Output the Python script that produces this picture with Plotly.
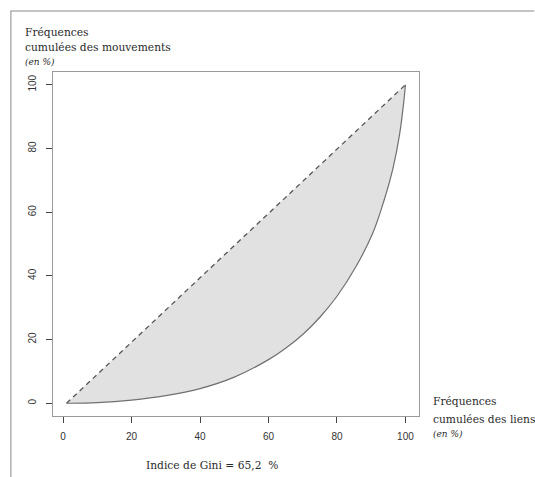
import plotly.graph_objects as go

# Lorenz curve (cumulative % of links vs cumulative % of movements)
links_cum = [1, 10, 20, 30, 40, 50, 60, 65, 70, 75, 80, 85.6, 90.5, 93.7, 96.4, 98.3, 99.5, 100]
moves_cum = [0, 0.2, 1.0, 2.4, 4.6, 8.2, 13.7, 17.3, 21.6, 27, 33.6, 43, 53.5, 63.5, 74, 84.5, 94.5, 100]
equality_x = [1, 100]
equality_y = [0, 100]
x_ticks = [0, 20, 40, 60, 80, 100]
y_ticks = [0, 20, 40, 60, 80, 100]
gini_text = "Indice de Gini = 65,2\u00a0 %"

W, H = 535, 477
L, R, T, B = 52.7, 419.5, 72.0, 416.0

def px(x):
    return (x - L) / (R - L)

def py(y):
    return (B - y) / (B - T)

fig = go.Figure()

# equality line (upper bound of the shaded area)
fig.add_trace(go.Scatter(
    x=equality_x, y=equality_y, mode="lines",
    line=dict(color="rgba(0,0,0,0)", width=0),
    hoverinfo="skip", showlegend=False))

# Lorenz curve, shaded up to the equality line
fig.add_trace(go.Scatter(
    x=links_cum, y=moves_cum, mode="lines",
    line=dict(color="#707070", width=1.2, shape="spline", smoothing=1.0),
    fill="tonexty", fillcolor="#e1e1e1", showlegend=False))

# dashed equality line on top
fig.add_trace(go.Scatter(
    x=equality_x, y=equality_y, mode="lines",
    line=dict(color="#555555", width=1.3, dash="5px,4px"),
    showlegend=False))

axis_common = dict(showgrid=False, zeroline=False, showline=True, mirror=True,
                   linecolor="#9a9a9a", linewidth=1, ticks="outside", ticklen=6,
                   tickcolor="#444444", tickwidth=1,
                   tickfont=dict(family="Liberation Sans, Arial", size=10, color="#333333"))

fig.update_xaxes(range=[-2.96, 103.96], tickvals=x_ticks, ticklabelstandoff=5, **axis_common)
fig.update_yaxes(range=[-4, 104], tickvals=y_ticks, tickangle=-90, ticklabelstandoff=6,
                 **axis_common)

serif = "DejaVu Serif"
ann = []
def add_text(text, x, y, size, italic=False, xanchor="left"):
    ann.append(dict(text=text, x=px(x), y=py(y), xref="paper", yref="paper",
                    xanchor=xanchor, yanchor="middle", showarrow=False,
                    font=dict(family=serif, size=size, color="#2a2a2a",
                              style="italic" if italic else "normal")))

add_text("Fréquences", 22.5, 32, 10.7)
add_text("cumulées des mouvements", 22.5, 47.5, 10.7)
add_text("(en %)", 22.5, 62, 9, italic=True)
add_text("Fréquences", 432, 401.5, 10.7)
add_text("cumulées des liens", 432, 419, 10.7)
add_text("(en %)", 432, 434, 9, italic=True)
add_text(gini_text, 212.5, 465, 10.7, xanchor="center")

shapes = [
    dict(type="line", xref="paper", yref="paper", x0=px(10), x1=px(535), y0=py(11), y1=py(11),
         line=dict(color="#8a8a8a", width=1)),
    dict(type="line", xref="paper", yref="paper", x0=px(10.5), x1=px(10.5), y0=py(11), y1=py(477),
         line=dict(color="#8a8a8a", width=1)),
]

fig.update_layout(width=W, height=H, margin=dict(l=L, r=W - R, t=T, b=H - B),
                  plot_bgcolor="white", paper_bgcolor="white",
                  annotations=ann, shapes=shapes, showlegend=False)

fig.write_html("out.html", config={"displayModeBar": False},
               post_script="document.body.style.margin='0';document.body.style.overflow='hidden';")
